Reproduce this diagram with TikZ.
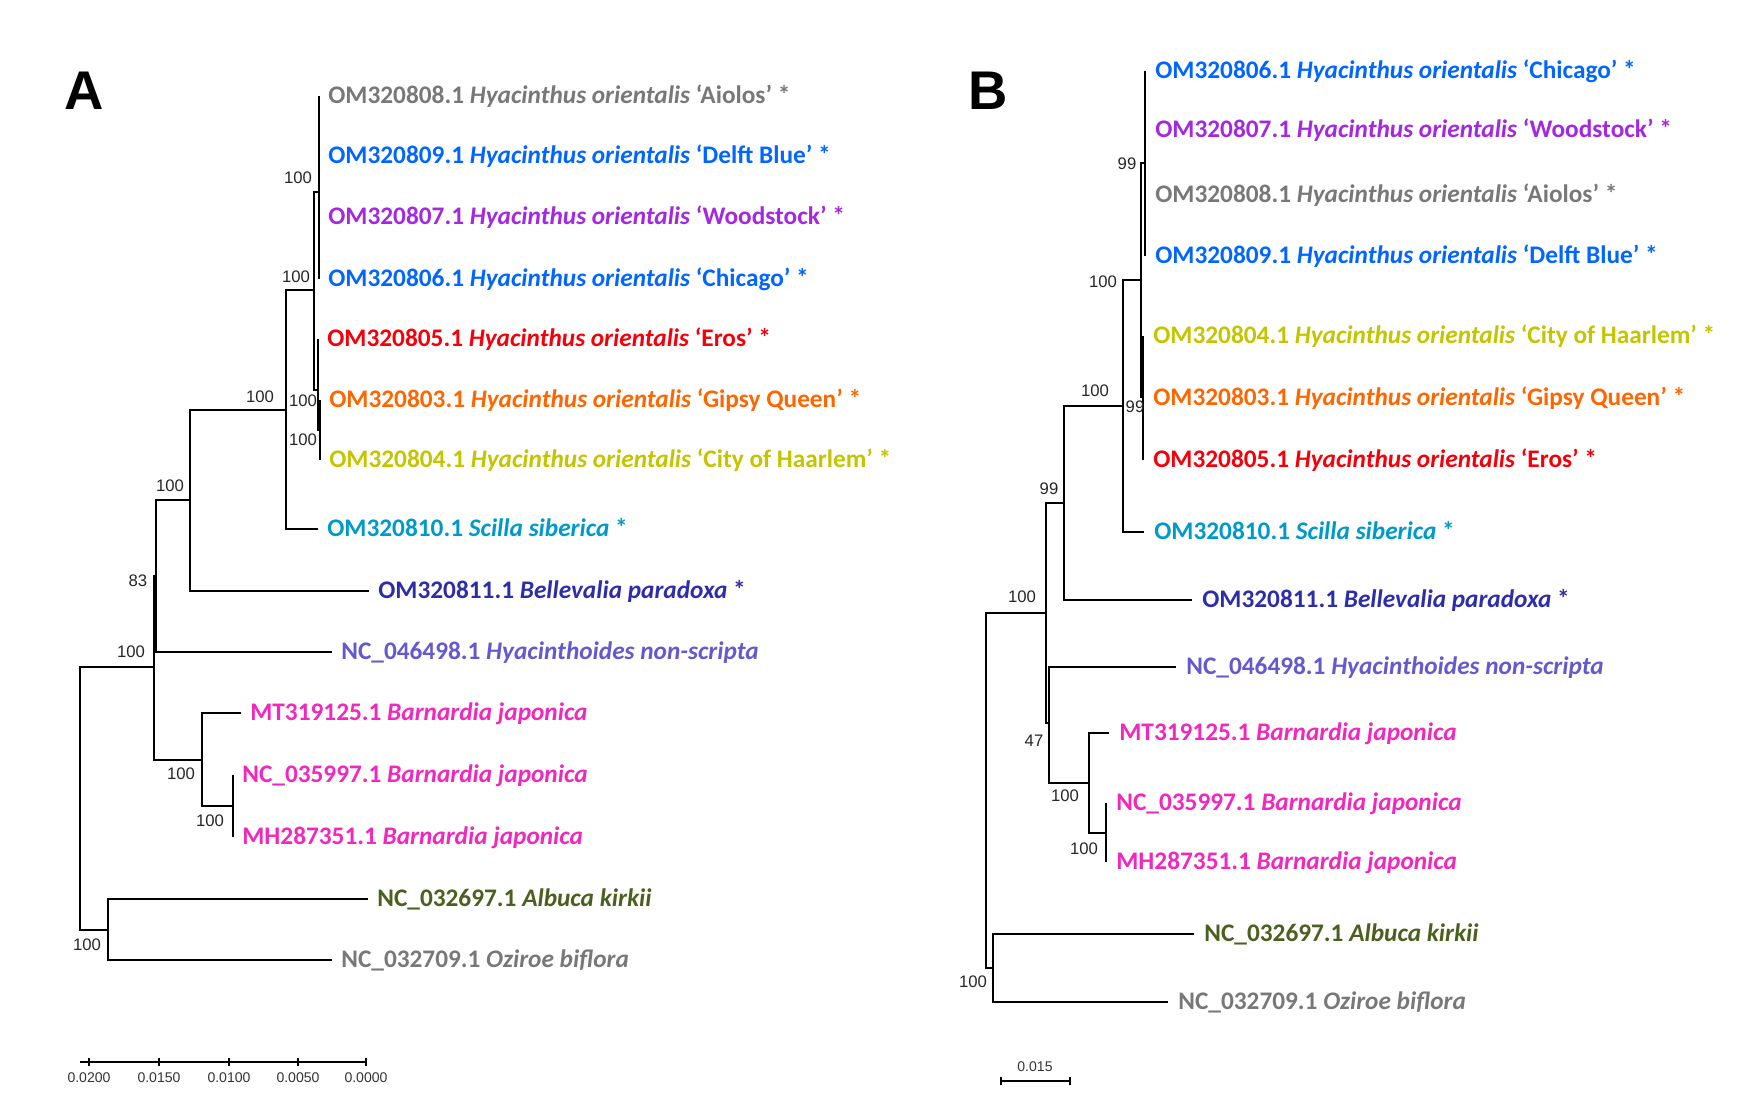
\documentclass[tikz,border=0pt]{standalone}
\usepackage{fontspec}
\setmainfont{Carlito}
\newfontfamily\arialfont{Liberation Sans}
\usetikzlibrary{positioning}

\definecolor{cgray}{RGB}{120,120,120}
\definecolor{cblue}{RGB}{0,102,255}
\definecolor{cpurple}{RGB}{165,40,225}
\definecolor{cred}{RGB}{245,0,10}
\definecolor{corange}{RGB}{255,102,0}
\definecolor{cyellow}{RGB}{196,196,0}
\definecolor{ccyan}{RGB}{0,153,204}
\definecolor{cnavy}{RGB}{45,45,170}
\definecolor{cslate}{RGB}{100,90,205}
\definecolor{cmagenta}{RGB}{240,40,190}
\definecolor{colive}{RGB}{75,95,30}

\tikzstyle{branch}=[line width=1.3pt, black]
\tikzstyle{taxon}=[anchor=west, inner sep=0pt, text height=9pt, text depth=0pt, font=\fontsize{14.4pt}{16pt}\selectfont\bfseries]
\tikzstyle{boot}=[inner sep=0pt, text=black!85, font=\arialfont\fontsize{9.5pt}{10pt}\selectfont]
\tikzstyle{scalelabel}=[inner sep=0pt, text=black!80, font=\arialfont\fontsize{8pt}{9pt}\selectfont]
\tikzstyle{scalebar}=[line width=0.9pt, black]
\tikzstyle{panel}=[inner sep=0pt, font=\arialfont\bfseries\fontsize{31pt}{31pt}\selectfont]

\begin{document}
\begin{tikzpicture}[x=0.02cm, y=-0.02cm]
\useasboundingbox (0,0) rectangle (1747,1118);
% Panel letters
    \node[panel] (pA) at (84,91) {A};
    \node[panel] (pB) at (988,91) {B};
% Panel A: tips
    \coordinate (a1) at (319,96);
    \coordinate (a2) at (319,156);
    \coordinate (a3) at (319,217);
    \coordinate (a4) at (319,279);
    \coordinate (a5) at (318,339);
    \coordinate (a6) at (320,400);
    \coordinate (a7) at (320,460);
    \coordinate (a8) at (318,529);
    \coordinate (a9) at (369,591);
    \coordinate (a10) at (332,652);
    \coordinate (a11) at (241,713);
    \coordinate (a12) at (233,775);
    \coordinate (a13) at (233,837);
    \coordinate (a14) at (368,899);
    \coordinate (a15) at (332,960);
% Panel A: inner nodes
    \coordinate (na1) at (319,192);
    \coordinate (na2) at (318,390);
    \coordinate (na3) at (320,430);
    \coordinate (naH) at (314,290);
    \coordinate (na4) at (286,410);
    \coordinate (na5) at (190,500);
    \coordinate (na6) at (156,576);
    \coordinate (na7) at (154,667);
    \coordinate (na8) at (202,760);
    \coordinate (na9) at (233,806);
    \coordinate (na10) at (108,930);
    \coordinate (naR) at (80,798);
% Panel A: branches
    \draw[branch] (na1) |- (a1) (na1) |- (a2) (na1) |- (a3) (na1) |- (a4);
    \draw[branch] (na3) |- (a6) (na3) |- (a7);
    \draw[branch] (na2) |- (a5) (na2) |- (na3);
    \draw[branch] (naH) |- (na1) (naH) |- (na2);
    \draw[branch] (na4) |- (naH) (na4) |- (a8);
    \draw[branch] (na5) |- (na4) (na5) |- (a9);
    \draw[branch] (na6) |- (na5) (na6) |- (a10);
    \draw[branch] (na9) |- (a12) (na9) |- (a13);
    \draw[branch] (na8) |- (a11) (na8) |- (na9);
    \draw[branch] (na7) |- (na6) (na7) |- (na8);
    \draw[branch] (na10) |- (a14) (na10) |- (a15);
    \draw[branch] (naR) |- (na7) (naR) |- (na10);
% Panel A: taxa
    \node[taxon, right=1.8mm of a1, text=cgray] (la1) {OM320808.1 \textit{Hyacinthus orientalis} ‘Aiolos’ *};
    \node[taxon, right=1.8mm of a2, text=cblue] (la2) {OM320809.1 \textit{Hyacinthus orientalis} ‘Delft Blue’ *};
    \node[taxon, right=1.8mm of a3, text=cpurple] (la3) {OM320807.1 \textit{Hyacinthus orientalis} ‘Woodstock’ *};
    \node[taxon, right=1.8mm of a4, text=cblue] (la4) {OM320806.1 \textit{Hyacinthus orientalis} ‘Chicago’ *};
    \node[taxon, right=1.8mm of a5, text=cred] (la5) {OM320805.1 \textit{Hyacinthus orientalis} ‘Eros’ *};
    \node[taxon, right=1.8mm of a6, text=corange] (la6) {OM320803.1 \textit{Hyacinthus orientalis} ‘Gipsy Queen’ *};
    \node[taxon, right=1.8mm of a7, text=cyellow] (la7) {OM320804.1 \textit{Hyacinthus orientalis} ‘City of Haarlem’ *};
    \node[taxon, right=1.8mm of a8, text=ccyan] (la8) {OM320810.1 \textit{Scilla siberica} *};
    \node[taxon, right=1.8mm of a9, text=cnavy] (la9) {OM320811.1 \textit{Bellevalia paradoxa} *};
    \node[taxon, right=1.8mm of a10, text=cslate] (la10) {NC\_046498.1 \textit{Hyacinthoides non-scripta}};
    \node[taxon, right=1.8mm of a11, text=cmagenta] (la11) {MT319125.1 \textit{Barnardia japonica}};
    \node[taxon, right=1.8mm of a12, text=cmagenta] (la12) {NC\_035997.1 \textit{Barnardia japonica}};
    \node[taxon, right=1.8mm of a13, text=cmagenta] (la13) {MH287351.1 \textit{Barnardia japonica}};
    \node[taxon, right=1.8mm of a14, text=colive] (la14) {NC\_032697.1 \textit{Albuca kirkii}};
    \node[taxon, right=1.8mm of a15, text=cgray] (la15) {NC\_032709.1 \textit{Oziroe biflora}};
% Panel A: bootstrap values
    \node[boot] (sa1) at (298,178) {100};
    \node[boot] (sa2) at (296,277) {100};
    \node[boot] (sa3) at (303,401) {100};
    \node[boot] (sa4) at (303,440) {100};
    \node[boot] (sa5) at (260,397) {100};
    \node[boot] (sa6) at (170,486) {100};
    \node[boot] (sa7) at (138,581) {83};
    \node[boot] (sa8) at (131,652) {100};
    \node[boot] (sa9) at (181,774) {100};
    \node[boot] (sa10) at (210,821) {100};
    \node[boot] (sa11) at (87,945) {100};
% Panel A: scale bar
    \draw[scalebar] (80,1062) -- (366,1062);
    \draw[scalebar] (89,1058) -- (89,1066);
    \draw[scalebar] (159,1058) -- (159,1066);
    \draw[scalebar] (229,1058) -- (229,1066);
    \draw[scalebar] (298,1058) -- (298,1066);
    \draw[scalebar] (366,1058) -- (366,1066);
    \node[scalelabel] (ka1) at (89,1078) {0.0200};
    \node[scalelabel] (ka2) at (159,1078) {0.0150};
    \node[scalelabel] (ka3) at (229,1078) {0.0100};
    \node[scalelabel] (ka4) at (298,1078) {0.0050};
    \node[scalelabel] (ka5) at (366,1078) {0.0000};
% Panel B: tips
    \coordinate (b1) at (1145,71);
    \coordinate (b2) at (1145,130);
    \coordinate (b3) at (1145,195);
    \coordinate (b4) at (1145,256);
    \coordinate (b5) at (1143,336);
    \coordinate (b6) at (1143,398);
    \coordinate (b7) at (1143,460);
    \coordinate (b8) at (1144,532);
    \coordinate (b9) at (1192,600);
    \coordinate (b10) at (1176,667);
    \coordinate (b11) at (1109,733);
    \coordinate (b12) at (1106,803);
    \coordinate (b13) at (1106,862);
    \coordinate (b14) at (1194,934);
    \coordinate (b15) at (1168,1002);
% Panel B: inner nodes
    \coordinate (nb1) at (1145,163);
    \coordinate (nb2) at (1143,397);
    \coordinate (nbH) at (1141,280);
    \coordinate (nb3) at (1123,406);
    \coordinate (nb4) at (1064,503);
    \coordinate (nb5) at (1046,613);
    \coordinate (nb6) at (1049,723);
    \coordinate (nb7) at (1089,783);
    \coordinate (nb8) at (1106,833);
    \coordinate (nb9) at (993,968);
    \coordinate (nbR) at (986,790);
% Panel B: branches
    \draw[branch] (nb1) |- (b1) (nb1) |- (b2) (nb1) |- (b3) (nb1) |- (b4);
    \draw[branch] (nb2) |- (b5) (nb2) |- (b6) (nb2) |- (b7);
    \draw[branch] (nbH) |- (nb1) (nbH) |- (nb2);
    \draw[branch] (nb3) |- (nbH) (nb3) |- (b8);
    \draw[branch] (nb4) |- (nb3) (nb4) |- (b9);
    \draw[branch] (nb8) |- (b12) (nb8) |- (b13);
    \draw[branch] (nb7) |- (b11) (nb7) |- (nb8);
    \draw[branch] (nb6) |- (b10) (nb6) |- (nb7);
    \draw[branch] (nb5) |- (nb4) (nb5) |- (nb6);
    \draw[branch] (nb9) |- (b14) (nb9) |- (b15);
    \draw[branch] (nbR) |- (nb5) (nbR) |- (nb9);
% Panel B: taxa
    \node[taxon, right=2mm of b1, text=cblue] (lb1) {OM320806.1 \textit{Hyacinthus orientalis} ‘Chicago’ *};
    \node[taxon, right=2mm of b2, text=cpurple] (lb2) {OM320807.1 \textit{Hyacinthus orientalis} ‘Woodstock’ *};
    \node[taxon, right=2mm of b3, text=cgray] (lb3) {OM320808.1 \textit{Hyacinthus orientalis} ‘Aiolos’ *};
    \node[taxon, right=2mm of b4, text=cblue] (lb4) {OM320809.1 \textit{Hyacinthus orientalis} ‘Delft Blue’ *};
    \node[taxon, right=2mm of b5, text=cyellow] (lb5) {OM320804.1 \textit{Hyacinthus orientalis} ‘City of Haarlem’ *};
    \node[taxon, right=2mm of b6, text=corange] (lb6) {OM320803.1 \textit{Hyacinthus orientalis} ‘Gipsy Queen’ *};
    \node[taxon, right=2mm of b7, text=cred] (lb7) {OM320805.1 \textit{Hyacinthus orientalis} ‘Eros’ *};
    \node[taxon, right=2mm of b8, text=ccyan] (lb8) {OM320810.1 \textit{Scilla siberica} *};
    \node[taxon, right=2mm of b9, text=cnavy] (lb9) {OM320811.1 \textit{Bellevalia paradoxa} *};
    \node[taxon, right=2mm of b10, text=cslate] (lb10) {NC\_046498.1 \textit{Hyacinthoides non-scripta}};
    \node[taxon, right=2mm of b11, text=cmagenta] (lb11) {MT319125.1 \textit{Barnardia japonica}};
    \node[taxon, right=2mm of b12, text=cmagenta] (lb12) {NC\_035997.1 \textit{Barnardia japonica}};
    \node[taxon, right=2mm of b13, text=cmagenta] (lb13) {MH287351.1 \textit{Barnardia japonica}};
    \node[taxon, right=2mm of b14, text=colive] (lb14) {NC\_032697.1 \textit{Albuca kirkii}};
    \node[taxon, right=2mm of b15, text=cgray] (lb15) {NC\_032709.1 \textit{Oziroe biflora}};
% Panel B: bootstrap values
    \node[boot] (sb1) at (1127,164) {99};
    \node[boot] (sb2) at (1103,282) {100};
    \node[boot] (sb3) at (1095,391) {100};
    \node[boot] (sb4) at (1135,407) {99};
    \node[boot] (sb5) at (1049,489) {99};
    \node[boot] (sb6) at (1022,597) {100};
    \node[boot] (sb7) at (1034,741) {47};
    \node[boot] (sb8) at (1065,796) {100};
    \node[boot] (sb9) at (1084,849) {100};
    \node[boot] (sb10) at (973,982) {100};
% Panel B: scale bar
    \draw[scalebar] (1001,1081) -- (1070,1081);
    \draw[scalebar] (1001,1077) -- (1001,1085);
    \draw[scalebar] (1070,1077) -- (1070,1085);
    \node[scalelabel] (kb1) at (1035,1067) {0.015};
\end{tikzpicture}
\end{document}
